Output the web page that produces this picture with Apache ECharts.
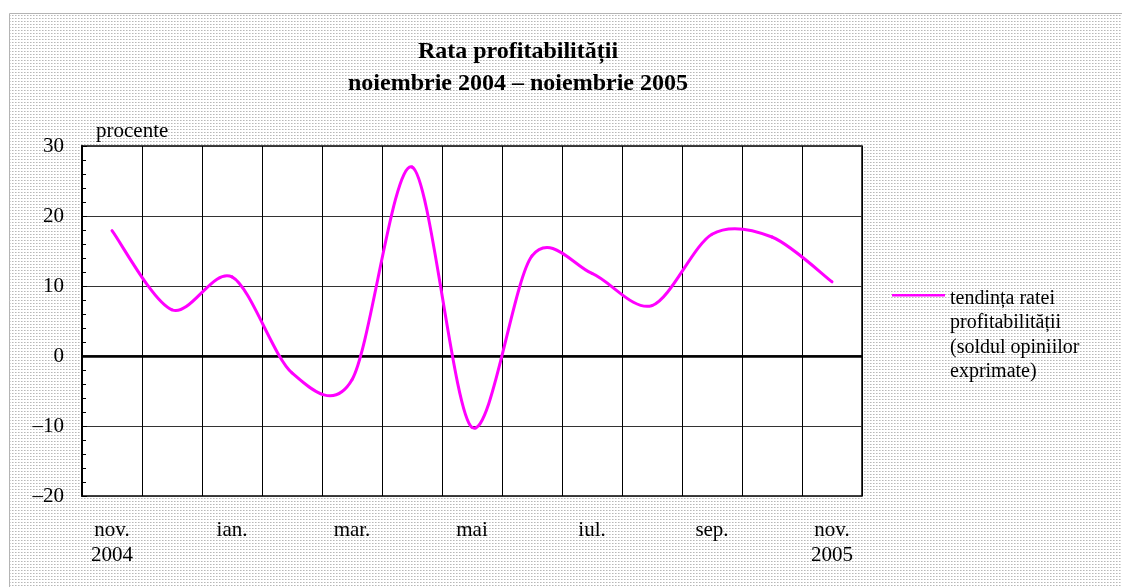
<!DOCTYPE html>
<html>
<head>
<meta charset="utf-8">
<script src="https://cdn.jsdelivr.net/npm/echarts@6/dist/echarts.min.js"></script>
<style>
html,body{margin:0;padding:0;background:#fff;}
#chart{width:1122px;height:587px;}
</style>
</head>
<body>
<div id="chart"></div>
<script>
// Data
var months = ['nov.','dec.','ian.','feb.','mar.','apr.','mai','iun.','iul.','aug.','sep.','oct.','nov.'];
var years  = ['2004','','','','','','','','','','','','2005'];
var values = [17.9, 6.6, 11.3, -2.4, -3.4, 27.0, -10.2, 14.3, 11.8, 7.2, 17.4, 17.0, 10.6];
var yTicks = {min: -20, max: 30, interval: 10};
var seriesName = 'tendința ratei\nprofitabilității\n(soldul opiniilor\nexprimate)';

// dotted background tile
var tile = document.createElement('canvas');
tile.width = 3; tile.height = 3;
var tc = tile.getContext('2d');
tc.fillStyle = '#ffffff'; tc.fillRect(0,0,3,3);
tc.fillStyle = '#b8b8b8'; tc.fillRect(0,0,1,1);
tc.fillStyle = '#d8d8d8'; tc.fillRect(1,0,1,1);

var serif = '"Liberation Serif","Times New Roman",serif';
var chart = echarts.init(document.getElementById('chart'), null, {renderer:'canvas'});

// smoothed segment (Catmull-Rom style, like a spreadsheet's smoothed line) between point i and i+1
function renderSegment(params, api) {
  var i = params.dataIndex;
  var n = values.length;
  if (i >= n - 1) return null;
  var p0 = api.coord([Math.max(i - 1, 0), values[Math.max(i - 1, 0)]]);
  var p1 = api.coord([i, values[i]]);
  var p2 = api.coord([i + 1, values[i + 1]]);
  var p3 = api.coord([Math.min(i + 2, n - 1), values[Math.min(i + 2, n - 1)]]);
  var k = 0.155;
  return {
    type: 'bezierCurve',
    shape: {
      x1: p1[0], y1: p1[1], x2: p2[0], y2: p2[1],
      cpx1: p1[0] + (p2[0] - p0[0]) * k, cpy1: p1[1] + (p2[1] - p0[1]) * k,
      cpx2: p2[0] - (p3[0] - p1[0]) * k, cpy2: p2[1] - (p3[1] - p1[1]) * k
    },
    style: {stroke: '#ff00ff', lineWidth: 3, fill: null, lineCap: 'round'}
  };
}

var option = {
  backgroundColor: '#ffffff',
  animation: false,
  graphic: [{
    type: 'rect', z: -100, zlevel: 0, silent: true,
    shape: {x: 9.5, y: 13.5, width: 1200, height: 700},
    style: {fill: {image: tile, repeat: 'repeat'}, stroke: '#b4b4b4', lineWidth: 1}
  }],
  title: {
    text: 'Rata profitabilității\nnoiembrie 2004 – noiembrie 2005',
    left: 513, top: 31, textAlign: 'center',
    textStyle: {fontFamily: serif, fontWeight: 'bold', fontSize: 24, lineHeight: 32, color: '#000'}
  },
  legend: {
    left: 887, top: 281, orient: 'vertical',
    itemWidth: 53, itemHeight: 98, itemGap: 0,
    icon: 'path://M0,16L53,16L53,18.5L0,18.5Z M0,98L0.001,98Z',
    textStyle: {fontFamily: serif, fontSize: 20, lineHeight: 24.5, color: '#000'},
    data: [seriesName]
  },
  grid: {
    left: 82, right: 260, top: 146, bottom: 91,
    show: true, backgroundColor: '#ffffff', borderColor: '#000', borderWidth: 1.5
  },
  xAxis: {
    type: 'category', data: months, boundaryGap: true,
    axisLine: {show: true, lineStyle: {color: '#000', width: 1.5}},
    axisTick: {show: true, inside: true, length: 5, interval: 0, lineStyle: {color: '#000'}},
    splitLine: {show: true, interval: 0, lineStyle: {color: '#000', width: 1}},
    axisLabel: {
      interval: 1, margin: 22,
      fontFamily: serif, fontSize: 21, lineHeight: 25, color: '#000',
      formatter: function (v, i) { return years[i] ? v + '\n' + years[i] : v; }
    }
  },
  yAxis: {
    type: 'value', min: yTicks.min, max: yTicks.max, interval: yTicks.interval,
    name: 'procente', nameLocation: 'end', nameGap: 4,
    nameTextStyle: {fontFamily: serif, fontSize: 21, color: '#000', align: 'left', padding: [0,0,0,14]},
    axisLine: {show: true, lineStyle: {color: '#000', width: 2}},
    axisTick: {show: true, inside: true, length: 5, lineStyle: {color: '#000'}},
    minorTick: {show: true, splitNumber: 5, length: 4, lineStyle: {color: '#000'}},
    splitLine: {show: true, lineStyle: {color: '#333', width: 1}},
    axisLabel: {
      margin: 18, fontFamily: serif, fontSize: 21, color: '#000',
      formatter: function (v) { return String(v).replace('-', '–'); }
    }
  },
  series: [{
    name: seriesName, type: 'custom',
    data: values.map(function (v, i) { return [i, v]; }),
    encode: {x: 0, y: 1},
    renderItem: renderSegment,
    itemStyle: {color: '#ff00ff'},
    clip: false,
    markLine: {
      silent: true, symbol: 'none', label: {show: false},
      lineStyle: {color: '#000', width: 2.5, type: 'solid'},
      data: [{yAxis: 0}]
    },
    z: 5
  }]
};
chart.setOption(option);
</script>
</body>
</html>
